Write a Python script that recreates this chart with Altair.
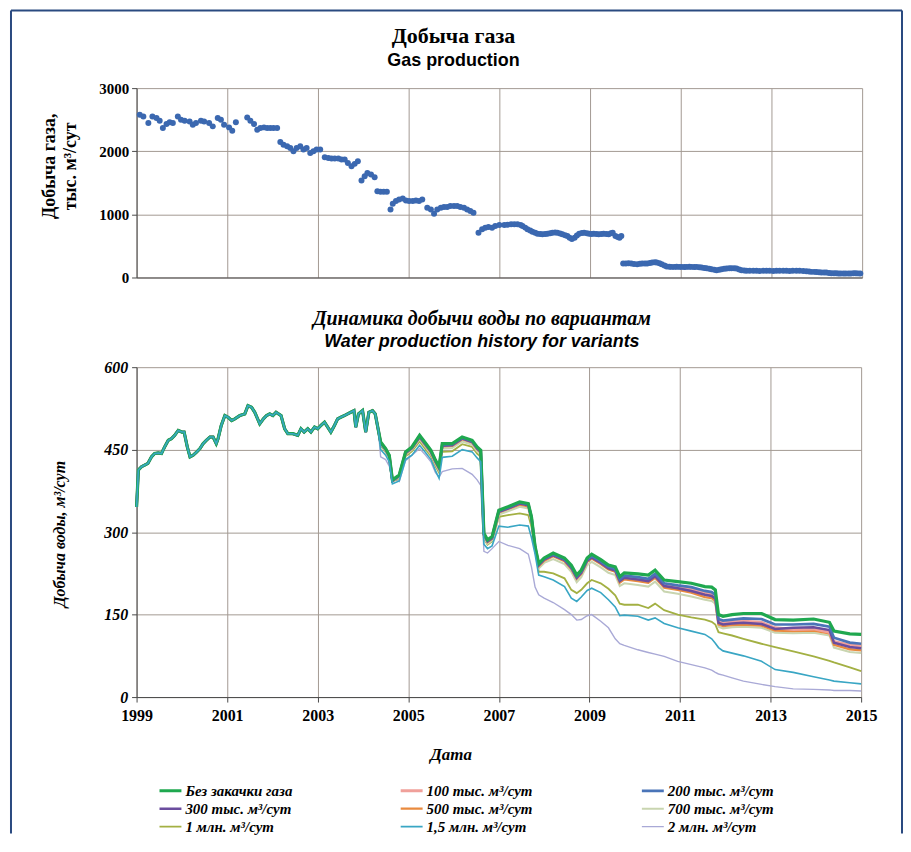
import altair as alt
import pandas as pd

SERIF = "Liberation Serif"
SANS = "Liberation Sans"
GRID = "#a39a93"
AXIS = "#4a4a4a"
FRAME = "#2a4a80"

# ---------------- Gas production (decimal year, thousand m3/day) ----------------
gas_points = [
    (1999.07, 2579), (1999.15, 2550), (1999.26, 2447), (1999.35, 2550), (1999.44, 2525), (1999.51, 2483),
    (1999.58, 2367), (1999.66, 2430), (1999.73, 2461), (1999.80, 2447), (1999.91, 2550), (1999.98, 2500),
    (2000.06, 2483), (2000.17, 2472), (2000.24, 2420), (2000.31, 2447), (2000.42, 2483), (2000.49, 2472),
    (2000.60, 2447), (2000.68, 2394), (2000.79, 2525), (2000.86, 2500), (2000.93, 2420), (2001.04, 2378),
    (2001.11, 2326), (2001.19, 2461), (2001.44, 2536), (2001.51, 2483), (2001.59, 2430), (2001.66, 2341),
    (2001.73, 2367), (2001.81, 2378), (2001.88, 2367), (2001.95, 2367), (2002.02, 2367), (2002.10, 2367),
    (2002.17, 2146), (2002.24, 2104), (2002.32, 2078), (2002.39, 2052), (2002.46, 2000), (2002.53, 2052),
    (2002.61, 2078), (2002.68, 2026), (2002.75, 2052), (2002.83, 1973), (2002.90, 2000), (2002.97, 2026),
    (2003.05, 2026), (2003.15, 1905), (2003.23, 1894), (2003.30, 1884), (2003.37, 1884), (2003.45, 1884),
    (2003.52, 1868), (2003.59, 1868), (2003.66, 1815), (2003.74, 1763), (2003.81, 1800), (2003.88, 1842),
    (2003.96, 1536), (2004.03, 1605), (2004.09, 1657), (2004.17, 1631), (2004.25, 1589), (2004.31, 1368),
    (2004.38, 1357), (2004.45, 1357), (2004.52, 1357), (2004.60, 1078), (2004.65, 1168), (2004.72, 1210),
    (2004.79, 1236), (2004.87, 1252), (2004.94, 1221), (2005.01, 1210), (2005.09, 1210), (2005.16, 1221),
    (2005.23, 1210), (2005.30, 1236), (2005.41, 1105), (2005.49, 1078), (2005.56, 1010), (2005.63, 1078),
    (2005.71, 1105), (2005.78, 1115), (2005.85, 1115), (2005.92, 1131), (2006.00, 1131), (2006.07, 1131),
    (2006.14, 1115), (2006.22, 1105), (2006.29, 1078), (2006.36, 1052), (2006.43, 1026), (2006.54, 710),
    (2006.62, 763), (2006.69, 789), (2006.76, 800), (2006.84, 789), (2006.91, 815), (2007.00, 831),
    (2007.11, 831), (2007.18, 836), (2007.26, 842), (2007.33, 842), (2007.40, 842), (2007.47, 830),
    (2007.51, 815), (2007.57, 790), (2007.62, 763), (2007.68, 745), (2007.73, 726), (2007.79, 710),
    (2007.84, 694), (2007.90, 688), (2007.95, 684), (2008.01, 690), (2008.06, 694), (2008.12, 702),
    (2008.17, 710), (2008.23, 712), (2008.28, 710), (2008.34, 698), (2008.39, 684), (2008.45, 670),
    (2008.50, 657), (2008.55, 630), (2008.60, 610), (2008.66, 631), (2008.71, 665), (2008.76, 694),
    (2008.82, 705), (2008.87, 710), (2008.93, 700), (2008.98, 694), (2009.03, 690), (2009.08, 694),
    (2009.14, 690), (2009.19, 684), (2009.25, 690), (2009.30, 694), (2009.36, 690), (2009.41, 684),
    (2009.46, 700), (2009.50, 710), (2009.56, 657), (2009.61, 640), (2009.65, 631), (2009.69, 657),
    (2009.73, 221), (2009.79, 221), (2009.85, 225), (2009.91, 221), (2009.97, 215), (2010.04, 210),
    (2010.10, 218), (2010.15, 221), (2010.21, 221), (2010.26, 221), (2010.32, 230), (2010.37, 237),
    (2010.43, 240), (2010.47, 237), (2010.53, 225), (2010.58, 210), (2010.64, 190), (2010.69, 174),
    (2010.75, 170), (2010.80, 168), (2010.86, 168), (2010.91, 170), (2010.97, 168), (2011.02, 168),
    (2011.08, 165), (2011.13, 168), (2011.19, 170), (2011.24, 168), (2011.30, 166), (2011.35, 168),
    (2011.41, 162), (2011.46, 158), (2011.52, 152), (2011.57, 147), (2011.63, 140), (2011.68, 131),
    (2011.74, 122), (2011.79, 116), (2011.85, 124), (2011.90, 131), (2011.96, 137), (2012.01, 142),
    (2012.07, 145), (2012.12, 147), (2012.18, 145), (2012.23, 142), (2012.29, 128), (2012.34, 116),
    (2012.40, 110), (2012.45, 105), (2012.52, 105), (2012.60, 106), (2012.67, 105), (2012.74, 104),
    (2012.82, 105), (2012.89, 106), (2012.96, 105), (2013.04, 104), (2013.11, 105), (2013.18, 106),
    (2013.26, 105), (2013.33, 105), (2013.40, 104), (2013.47, 105), (2013.55, 106), (2013.62, 105),
    (2013.70, 103), (2013.77, 100), (2013.83, 94), (2013.88, 89), (2013.94, 89), (2013.99, 88),
    (2014.05, 84), (2014.10, 79), (2014.16, 79), (2014.21, 78), (2014.27, 72), (2014.32, 68),
    (2014.38, 68), (2014.43, 67), (2014.48, 64), (2014.53, 63), (2014.59, 63), (2014.64, 63),
    (2014.70, 62), (2014.75, 63), (2014.81, 66), (2014.86, 68), (2014.91, 65), (2014.96, 63),
]

# ---------------- Water production: common history 1999-2004.3 ----------------
hist_year = [1999.0, 1999.04, 1999.11, 1999.18, 1999.25, 1999.33, 1999.4, 1999.48, 1999.55, 1999.62,
             1999.7, 1999.77, 1999.84, 1999.92, 2000.0, 2000.05, 2000.12, 2000.18, 2000.25, 2000.33,
             2000.4, 2000.47, 2000.54, 2000.62, 2000.69, 2000.76, 2000.8, 2000.87, 2000.95, 2001.02,
             2001.1, 2001.17, 2001.28, 2001.39, 2001.46, 2001.54, 2001.61, 2001.72, 2001.8, 2001.87,
             2001.94, 2002.01, 2002.08, 2002.19, 2002.27, 2002.34, 2002.45, 2002.56, 2002.63, 2002.7,
             2002.78, 2002.85, 2002.93, 2003.0, 2003.07, 2003.15, 2003.22, 2003.29, 2003.37, 2003.44,
             2003.51, 2003.59, 2003.66, 2003.73, 2003.8, 2003.84, 2003.9, 2003.99, 2004.06, 2004.13,
             2004.21, 2004.27, 2004.34]
hist_value = [346, 413, 419, 422, 425, 437, 443, 444, 443, 455,
              467, 470, 476, 485, 482, 482, 455, 437, 440, 446,
              452, 461, 467, 473, 473, 461, 470, 494, 512, 509,
              503, 506, 512, 515, 530, 527, 518, 497, 506, 512,
              515, 512, 518, 512, 488, 479, 479, 476, 488, 482,
              488, 482, 491, 488, 494, 500, 491, 482, 494, 506,
              509, 512, 515, 518, 521, 491, 515, 521, 482, 518,
              521, 515, 485]

# ---------------- Water production by variant, 2004.4-2015 ----------------
var_year = [2004.39, 2004.5, 2004.58, 2004.65, 2004.8, 2004.94, 2005.08, 2005.25, 2005.38, 2005.5,
            2005.6, 2005.68, 2005.75, 2005.97, 2006.19, 2006.41, 2006.52, 2006.6, 2006.67, 2006.75,
            2006.85, 2007.0, 2007.2, 2007.46, 2007.65, 2007.72, 2007.8, 2007.88, 2008.0, 2008.2,
            2008.45, 2008.6, 2008.72, 2008.82, 2008.95, 2009.05, 2009.25, 2009.42, 2009.57, 2009.67,
            2009.77, 2010.07, 2010.3, 2010.45, 2010.65, 2010.95, 2011.25, 2011.55, 2011.7, 2011.78,
            2011.85, 2011.95, 2012.15, 2012.4, 2012.8, 2013.1, 2013.5, 2013.95, 2014.3, 2014.4,
            2014.75, 2015.0]

w_none = [464, 452, 440, 395, 404, 446, 455, 476, 462, 449, 431, 419, 461, 461, 473, 467, 455, 449, 298, 286,
          292, 340, 346, 355, 352, 328, 274, 243, 253, 262, 253, 240, 222, 231, 253, 260, 250, 240, 237, 219,
          226, 224, 222, 231, 213, 210, 207, 201, 200, 195, 150, 147, 150, 152, 152, 141, 140, 142, 136, 120,
          115, 114]
w_100 = [463, 451, 439, 394, 403, 445, 454, 474, 460, 447, 429, 417, 458, 459, 471, 465, 453, 447, 296, 284,
         290, 338, 344, 353, 350, 326, 272, 241, 251, 259, 250, 236, 218, 227, 249, 256, 246, 236, 232, 213,
         219, 216, 213, 222, 204, 200, 196, 189, 187, 182, 138, 135, 137, 138, 136, 126, 123, 124, 118, 101,
         95, 93]
w_200 = [463, 451, 439, 394, 403, 445, 454, 475, 461, 448, 430, 418, 459, 460, 472, 466, 454, 448, 297, 285,
         291, 339, 345, 354, 351, 327, 273, 242, 252, 260, 251, 238, 220, 229, 251, 257, 247, 237, 233, 214,
         221, 218, 215, 224, 207, 203, 200, 193, 191, 186, 142, 139, 141, 143, 142, 132, 132, 133, 128, 108,
         99, 97]
w_300 = [462, 450, 438, 393, 402, 444, 453, 473, 459, 446, 428, 416, 457, 458, 470, 464, 452, 446, 295, 283,
         289, 337, 343, 352, 349, 325, 271, 240, 250, 258, 249, 235, 217, 226, 248, 254, 244, 234, 230, 211,
         217, 214, 211, 220, 202, 198, 193, 186, 184, 179, 135, 132, 134, 135, 133, 124, 126, 127, 122, 99,
         91, 89]
w_500 = [462, 450, 438, 393, 402, 443, 452, 472, 458, 445, 427, 415, 456, 457, 469, 463, 451, 445, 294, 282,
         288, 336, 342, 350, 347, 323, 269, 238, 248, 256, 247, 233, 215, 224, 246, 252, 242, 232, 228, 208,
         214, 211, 208, 217, 199, 195, 190, 182, 180, 175, 132, 129, 131, 132, 130, 121, 120, 121, 116, 95,
         87, 85]
w_700 = [460, 448, 436, 392, 400, 441, 450, 469, 455, 442, 424, 412, 452, 453, 465, 459, 447, 441, 290, 279,
         285, 332, 338, 346, 343, 319, 265, 234, 244, 251, 242, 228, 209, 218, 240, 246, 236, 226, 222, 202,
         207, 204, 201, 210, 192, 188, 183, 177, 175, 170, 128, 125, 127, 128, 126, 117, 116, 117, 112, 90,
         82, 80]
w_1000 = [458, 446, 434, 392, 398, 438, 447, 465, 451, 438, 420, 408, 446, 447, 460, 455, 443, 437, 288, 277,
          283, 328, 331, 334, 331, 310, 270, 228, 228, 225, 216, 195, 189, 195, 207, 213, 207, 197, 185, 170,
          168, 168, 162, 170, 158, 150, 145, 141, 137, 132, 118, 116, 112, 106, 97, 91, 83, 74, 66, 63,
          54, 47]
w_1500 = [450, 440, 428, 388, 393, 432, 440, 458, 445, 432, 412, 398, 436, 438, 450, 446, 435, 428, 278, 270,
          275, 311, 309, 313, 311, 290, 260, 222, 219, 213, 201, 180, 174, 182, 194, 198, 190, 177, 164, 148,
          149, 147, 140, 144, 134, 126, 120, 114, 106, 98, 90, 84, 80, 75, 65, 50, 45, 37, 31, 29,
          26, 24]
w_2000 = [437, 432, 420, 398, 392, 430, 440, 452, 440, 428, 408, 400, 410, 415, 416, 405, 395, 385, 265, 262,
          270, 283, 276, 270, 260, 237, 200, 186, 180, 172, 159, 150, 140, 141, 148, 150, 138, 126, 106, 97,
          94, 86, 81, 78, 74, 65, 59, 53, 49, 45, 42, 40, 35, 29, 23, 19, 15, 14, 13, 12,
          12, 11]

names = ["Без закачки газа", "100 тыс. м³/сут", "200 тыс. м³/сут", "300 тыс. м³/сут",
         "500 тыс. м³/сут", "700 тыс. м³/сут", "1 млн. м³/сут", "1,5 млн. м³/сут", "2 млн. м³/сут"]
colors = ["#1fa84f", "#f0a09a", "#4a74b8", "#6b4d9e", "#e98a3e", "#c9d5b0", "#a3b043", "#39a6c4", "#a9a9d6"]
widths = [3.2, 1.4, 1.6, 1.6, 1.5, 1.3, 1.6, 2.0, 1.3]
variant_values = [w_none, w_100, w_200, w_300, w_500, w_700, w_1000, w_1500, w_2000]
# drawing order (last drawn on top)
draw_order = [8, 6, 5, 4, 1, 3, 2, 0, 7]

year_ticks = [1999, 2001, 2003, 2005, 2007, 2009, 2011, 2013, 2015]

# ---------------- tables ----------------
gas_df = pd.DataFrame(gas_points, columns=["year", "value"])

rows = []
for i in draw_order:
    for yr, v in zip(hist_year + var_year, hist_value + variant_values[i]):
        rows.append({"series": names[i], "year": yr, "value": v})
water_df = pd.DataFrame(rows)

x_scale = alt.Scale(domain=[1999, 2015], nice=False, zero=False)

# ---------------- top: gas production ----------------
top = alt.Chart(gas_df).mark_circle(size=36, color="#3b68b0", opacity=1).encode(
    x=alt.X("year:Q", scale=x_scale,
            axis=alt.Axis(values=year_ticks, labels=False, ticks=False, title=None,
                          grid=True, gridColor=GRID, domainColor=AXIS)),
    y=alt.Y("value:Q", scale=alt.Scale(domain=[0, 3000], nice=False),
            axis=alt.Axis(values=[0, 1000, 2000, 3000], format="d",
                          title=["Добыча газа,", "тыс. м³/сут"],
                          titleFont=SERIF, titleFontSize=18, titleFontWeight="bold", titleColor="black",
                          titleX=-78, titleY=78, titleLineHeight=21,
                          labelFont=SERIF, labelFontSize=15, labelFontWeight="bold", labelColor="black",
                          tickSize=5, labelPadding=3, gridColor=GRID, domainColor=AXIS, tickColor=AXIS)),
).properties(
    width=728, height=190,
    title=alt.TitleParams(text="Добыча газа", subtitle="Gas production", frame="group",
                          font=SERIF, fontSize=22, fontWeight="bold", color="black",
                          subtitleFont="Liberation Sans Narrow, Liberation Sans", subtitleFontSize=18,
                          subtitleFontWeight="bold", subtitleColor="black", subtitlePadding=4,
                          anchor="middle", dx=-46, offset=10),
)

# ---------------- bottom: water production ----------------
bottom = alt.Chart(water_df).mark_line(interpolate="linear").encode(
    x=alt.X("year:Q", scale=x_scale,
            axis=alt.Axis(values=year_ticks, format="d", title="Дата", labelFlush=False,
                          titleFont=SERIF, titleFontSize=17, titleFontWeight="bold", titleFontStyle="italic",
                          titleColor="black", titleX=315, titleY=50,
                          labelFont=SERIF, labelFontSize=16, labelFontWeight="bold", labelColor="black",
                          tickSize=5, labelPadding=5, grid=True, gridColor=GRID,
                          domainColor=AXIS, tickColor=AXIS)),
    y=alt.Y("value:Q", scale=alt.Scale(domain=[0, 600], nice=False),
            axis=alt.Axis(values=[0, 150, 300, 450, 600], title="Добыча воды, м³/сут",
                          titleFont=SERIF, titleFontSize=16, titleFontWeight="bold", titleFontStyle="italic",
                          titleColor="black", titleX=-69, titleY=167,
                          labelFont=SERIF, labelFontSize=16, labelFontWeight="bold", labelFontStyle="italic",
                          labelColor="black", tickSize=5, labelPadding=4, gridColor=GRID,
                          domainColor=AXIS, tickColor=AXIS)),
    color=alt.Color("series:N", scale=alt.Scale(domain=names, range=colors),
                    legend=alt.Legend(title=None, orient="none", legendX=21, legendY=696, columns=3,
                                      direction="horizontal",
                                      symbolType="stroke", symbolSize=484, symbolStrokeWidth=2,
                                      labelFont=SERIF, labelFontSize=15, labelFontWeight="bold",
                                      labelFontStyle="italic", labelColor="black", labelOffset=2,
                                      labelLimit=300, gridAlign="all", columnPadding=106,
                                      rowPadding=0, clipHeight=18)),
    strokeWidth=alt.StrokeWidth("series:N", scale=alt.Scale(domain=names, range=widths),
                                legend=alt.Legend(title=None)),
).properties(
    width=727, height=331,
    title=alt.TitleParams(text="Динамика добычи воды по вариантам",
                          subtitle="Water production history for variants", frame="group",
                          font=SERIF, fontSize=20, fontWeight="bold", fontStyle="italic", color="black",
                          subtitleFont=SANS, subtitleFontSize=18, subtitleFontWeight="bold",
                          subtitleFontStyle="italic", subtitleColor="black", subtitlePadding=4,
                          anchor="middle", dx=-17, offset=8),
)

# ---------------- decorative page frame (own panel, drawn outward) ----------------
frame_df = pd.DataFrame({"k": [0]})
fr_left = alt.Chart(frame_df).mark_rule(color=FRAME, strokeWidth=2).encode(
    x=alt.value(-126), y=alt.value(-779), y2=alt.value(47))
fr_top = alt.Chart(frame_df).mark_rule(color=FRAME, strokeWidth=2).encode(
    x=alt.value(-126), x2=alt.value(768), y=alt.value(-779))
fr_right = alt.Chart(frame_df).mark_rule(color=FRAME, strokeWidth=2).encode(
    x=alt.value(768), y=alt.value(-779), y2=alt.value(47))
frame = alt.layer(fr_left, fr_top, fr_right).properties(width=727, height=1)

chart = alt.vconcat(top, bottom, frame, spacing=90, bounds="flush").properties(
    padding={"left": 2, "top": 0, "right": 0, "bottom": 0},
    background="white",
).configure_view(strokeWidth=0)

chart.save("out.html", embed_options={"renderer": "svg", "actions": False})
